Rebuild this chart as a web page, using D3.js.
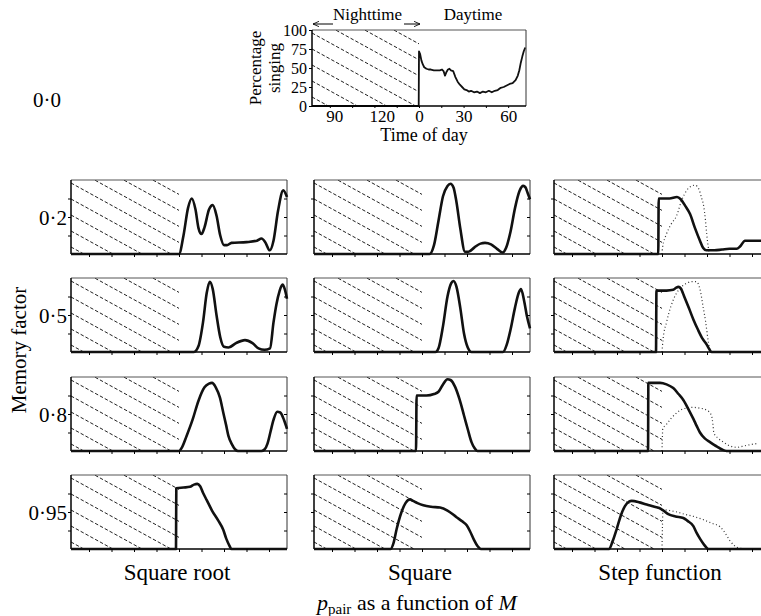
<!DOCTYPE html>
<html>
<head>
<meta charset="utf-8">
<script src="https://cdn.jsdelivr.net/npm/d3@7"></script>
<style>
  body { margin: 0; background: #fff; }
  svg { display: block; font-family: "Liberation Serif", "Times New Roman", serif; }
</style>
</head>
<body>
<div id="chart"></div>
<script>
(function () {
  "use strict";

  // --- data (minutes from dawn, percentage singing) ---
  var memoryFactors = ["0·2", "0·5", "0·8", "0·95"];
  var functionNames = ["Square root", "Square", "Step function"];
  var percentTicks = [0, 25, 50, 75, 100];
  var topTickValues = [-57, -25, 0, 30, 60];
  var topTickLabels = ["90", "120", "0", "30", "60"];
  var minorTicks = [-60, -45, -30, -15, 0, 15, 30, 45, 60];

  var observed = [[-72,0],[-0.2,0],[0,72],[0.8,68],[1.6,60],[2.5,55],[3.5,51],[5,49],[6.5,48],[8,48],[10,47],[12,47],[14,47],[15.5,48],[16.5,46],[17.5,40],[18.3,44],[19.5,48],[20.5,49],[21.5,47],[23,46],[24.5,38],[26,32],[27.5,28],[29,25],[30.5,22],[32,21],[33.5,19],[35,20],[37,18],[39,19],[41,17],[43,19],[45,18],[47,20],[49,18],[51,20],[53,21],[55,24],[57,25],[59,27],[61,29],[63,30],[65,34],[66.5,40],[67.5,47],[68.5,57],[69.5,65],[70.5,72],[71.5,77]];

  var sqrt02 = [[-72,0],[0,0],[3,25],[6,62],[8.5,75],[11,60],[13,35],[15,27],[17,36],[20,60],[22.5,66],[25,52],[27.5,25],[30,12],[32,12],[35,15],[45,16],[52,18],[55,21],[57.5,16],[60.5,5],[63,18],[66,58],[69.5,86],[72,77]];
  var sqrt05 = [[-72,0],[10,0],[13,8],[16,40],[18.5,80],[20.5,95],[22.5,85],[25,50],[27.5,20],[30,7],[33,6],[38,12],[44,16],[49,12],[53,5],[57,3],[60.7,5],[63,40],[65,65],[67,82],[69,91],[70.5,85],[72,72]];
  var sqrt08 = [[-72,0],[0,0],[2,5],[5,20],[9,42],[13,68],[17,86],[20,91],[22,92],[24.5,86],[27.3,72],[29.5,52],[31.3,36],[33,20],[35.3,9],[37.5,2],[39.3,0],[55,0],[57,2],[59,10],[61,26],[63,42],[65.5,53],[67.5,52],[70,42],[72,30]];
  var sqrt095 = [[-72,0],[-2,0],[-1.8,82],[3,83],[7.3,84],[10,87],[12.2,88],[14,85],[16,76],[18.5,66],[22,52],[26,39],[29.5,26],[31.5,14],[33.5,5],[35,0],[72,0]];

  var square02 = [[-72,0],[5,0],[8,12],[11,45],[14,78],[17,92],[19,95],[21,90],[23,70],[25.5,35],[28.7,3],[31,3],[35,9],[39,14],[42,15],[46,13],[50,7],[53.8,2],[56,8],[59,30],[62,62],[65,85],[67.5,92],[69,90],[70.5,82],[72,74]];
  var square05 = [[-72,0],[9,0],[11,5],[14,35],[17,75],[19.5,93],[21,96],[23,88],[25.5,60],[28,25],[30.5,6],[33,0],[54,0],[56.5,10],[59,30],[62,60],[64.5,80],[66,85],[68,70],[70,48],[72,32]];
  var square08 = [[-72,0],[-4,0],[-3.6,75],[3,75],[8,77],[11,80],[14,90],[17,97],[19,96],[22,87],[25,70],[28,48],[30.7,28],[33,12],[35,4],[37,0],[72,0]];
  var square095 = [[-72,0],[-21,0],[-19,8],[-16.9,27],[-14,48],[-11,62],[-8,67],[-6,65],[-3,62],[0.9,59],[6,57],[12,56],[17,52],[23,43],[27,37],[29.8,32],[32,24],[34.5,13],[37,4],[39.3,0],[72,0]];

  var step02 = [[-72,0],[-2.5,0],[-2.2,75],[5,75],[10,77],[12.5,74],[15.5,65],[18.7,54],[22,35],[25.3,18],[27.5,8],[29.5,5],[35,5],[40,6],[45,7],[49.8,7],[52,10],[55.3,18],[60,18],[72,18]];
  var step05 = [[-72,0],[-4,0],[-3.7,83],[3,83],[7.5,84],[9.5,87],[11,88],[12.5,86],[15,74],[18,59],[20.9,44],[24,30],[27,18],[29.8,10],[31.5,4],[33,0],[72,0]];
  var step08 = [[-72,0],[-9.3,0],[-9.1,92],[-5,92],[-1.3,92],[3,90],[7.5,85],[11,77],[14.2,69],[18,55],[21,43],[23.1,34],[25.3,25],[28.5,17],[32,12],[35,8],[37.5,5],[40,2],[43,0],[72,0]];
  var step095 = [[-72,0],[-35.3,0],[-33,10],[-30.2,27],[-27.5,45],[-24.7,58],[-22,64],[-20.2,65],[-15,63],[-10.2,60],[-5,57],[-0.5,54],[0.9,52],[4.2,47],[9,44],[14.2,42],[17,38],[20.9,31],[23,22],[25.3,14],[28,6],[31,0],[72,0]];

  var stepRef02 = [[0,0],[0.3,8],[3,27],[6,40],[9.8,52],[13,72],[16.5,86],[20,92],[22,93],[24.5,88],[26.5,75],[27.5,68],[29,45],[29.8,27],[30.8,10],[31.5,0]];
  var stepRef05 = [[0,0],[0.3,8],[0.7,17],[3,40],[6,62],[9.8,80],[13,88],[16.5,93],[20,95],[23,95],[25.3,85],[27.5,60],[29,42],[29.8,30],[31,12],[32,0]];
  var stepRef08 = [[0,0],[0.2,15],[0.5,30],[3,36],[6,44],[9,50],[12,55],[16,58],[20,59],[25,58],[30,55],[33,48],[34,35],[34.5,25],[37,18],[41,12],[45,7],[50,5],[55,7],[60,9],[63,10]];
  var stepRef095 = [[0,0],[0.3,30],[0.6,53],[5,52],[10,50],[15,47],[21,44],[27,40],[33,35],[38.7,30],[42,22],[45,12],[48,5],[52,1],[60,0],[72,0]];

  var solidRows = [
    [sqrt02, square02, step02],
    [sqrt05, square05, step05],
    [sqrt08, square08, step08],
    [sqrt095, square095, step095]
  ];
  var dottedRows = [stepRef02, stepRef05, stepRef08, stepRef095];

  // --- layout ---
  var WIDTH = 761, HEIGHT = 616;
  var PANEL_W = 216, PANEL_H = 74;
  var COL_X = [71, 314, 554];
  var ROW_Y = [180, 278, 377, 475];
  var TOP = { x: 312, y: 30, w: 214, h: 76 };
  var DOMAIN = [-72, 72];
  var clipId = 0;

  var svg = d3.select("#chart").append("svg")
    .attr("width", WIDTH)
    .attr("height", HEIGHT)
    .attr("viewBox", [0, 0, WIDTH, HEIGHT]);
  svg.append("rect").attr("width", WIDTH).attr("height", HEIGHT).attr("fill", "#fff");

  function drawHatch(g, xs, h) {
    var hw = xs(0);
    var id = "hclip" + (clipId++);
    g.append("clipPath").attr("id", id)
      .append("rect").attr("width", hw).attr("height", h);
    var hg = g.append("g").attr("clip-path", "url(#" + id + ")");
    var slope = 0.55, gap = 16;
    var start = 3 - Math.ceil(slope * hw / gap) * gap;
    for (var off = start; off < h; off += gap) {
      hg.append("line")
        .attr("x1", 0).attr("y1", off)
        .attr("x2", hw).attr("y2", off + slope * hw)
        .attr("stroke", "#222")
        .attr("stroke-width", 1)
        .attr("stroke-dasharray", "3.5,2");
    }
  }

  function drawFrame(g, w, h) {
    g.append("line").attr("x1", 0).attr("x2", w).attr("y1", 0).attr("y2", 0)
      .attr("stroke", "#555").attr("stroke-width", 1);
    g.append("line").attr("x1", w).attr("x2", w).attr("y1", 0).attr("y2", h)
      .attr("stroke", "#333").attr("stroke-width", 1);
    g.append("line").attr("x1", 0).attr("x2", 0).attr("y1", 0).attr("y2", h)
      .attr("stroke", "#000").attr("stroke-width", 1.5);
    g.append("line").attr("x1", 0).attr("x2", w).attr("y1", h).attr("y2", h)
      .attr("stroke", "#000").attr("stroke-width", 1.3);
  }

  function styleAxis(axisG) {
    axisG.select(".domain").remove();
    axisG.selectAll(".tick line").attr("stroke", "#000").attr("stroke-width", 1);
  }

  // --- top panel: observed data ---
  var topG = svg.append("g").attr("transform", "translate(" + TOP.x + "," + TOP.y + ")");
  var topX = d3.scaleLinear().domain(DOMAIN).range([0, TOP.w]);
  var topY = d3.scaleLinear().domain([0, 100]).range([TOP.h, 0]);
  drawHatch(topG, topX, TOP.h);

  topG.append("path")
    .datum(observed)
    .attr("fill", "none")
    .attr("stroke", "#111")
    .attr("stroke-width", 1.8)
    .attr("stroke-linejoin", "round")
    .attr("d", d3.line().x(function (d) { return topX(d[0]); }).y(function (d) { return topY(d[1]); }));

  drawFrame(topG, TOP.w, TOP.h);

  var yAxisTop = topG.append("g")
    .call(d3.axisLeft(topY).tickValues(percentTicks).tickSize(3).tickPadding(2));
  styleAxis(yAxisTop);
  yAxisTop.selectAll("text").attr("font-size", 16).attr("fill", "#000")
    .attr("font-family", "Liberation Serif, serif");

  var xAxisMinorTop = topG.append("g").attr("transform", "translate(0," + TOP.h + ")")
    .call(d3.axisBottom(topX).tickValues(minorTicks).tickSize(2).tickFormat(""));
  styleAxis(xAxisMinorTop);

  var xAxisTop = topG.append("g").attr("transform", "translate(0," + TOP.h + ")")
    .call(d3.axisBottom(topX).tickValues(topTickValues).tickSize(0).tickPadding(4)
      .tickFormat(function (d, i) { return topTickLabels[i]; }));
  styleAxis(xAxisTop);
  xAxisTop.selectAll("text").attr("font-size", 17).attr("fill", "#000")
    .attr("font-family", "Liberation Serif, serif");

  svg.append("text").attr("x", 424).attr("y", 141).attr("text-anchor", "middle")
    .attr("font-size", 18).text("Time of day");

  [["Percentage", 255], ["singing", 274]].forEach(function (t) {
    svg.append("text")
      .attr("transform", "translate(" + t[1] + "," + (TOP.y + TOP.h / 2) + ") rotate(-90)")
      .attr("text-anchor", "middle")
      .attr("dominant-baseline", "central")
      .attr("font-size", 17)
      .text(t[0]);
  });

  // Nighttime / Daytime header with arrows
  var defs = svg.append("defs");
  defs.append("marker").attr("id", "arrowhead")
    .attr("viewBox", "0 0 10 10").attr("refX", 9).attr("refY", 5)
    .attr("markerWidth", 7).attr("markerHeight", 7).attr("orient", "auto")
    .append("path").attr("d", "M0,1 L9,5 L0,9").attr("fill", "none")
    .attr("stroke", "#000").attr("stroke-width", 1.2);

  var dawnX = TOP.x + topX(0);
  svg.append("line").attr("x1", TOP.x + 21).attr("y1", 24).attr("x2", TOP.x + 1).attr("y2", 24)
    .attr("stroke", "#000").attr("stroke-width", 1).attr("marker-end", "url(#arrowhead)");
  svg.append("line").attr("x1", dawnX - 15).attr("y1", 24).attr("x2", dawnX + 1).attr("y2", 24)
    .attr("stroke", "#000").attr("stroke-width", 1).attr("marker-end", "url(#arrowhead)");
  svg.append("text").attr("x", (TOP.x + dawnX) / 2 + 2).attr("y", 20).attr("text-anchor", "middle")
    .attr("font-size", 17).text("Nighttime");
  svg.append("text").attr("x", 473).attr("y", 20).attr("text-anchor", "middle")
    .attr("font-size", 17).text("Daytime");

  svg.append("text").attr("x", 47).attr("y", 107).attr("text-anchor", "middle")
    .attr("font-size", 21).text("0·0");

  // --- grid of model panels ---
  var x = d3.scaleLinear().domain(DOMAIN).range([0, PANEL_W]);
  var y = d3.scaleLinear().domain([0, 100]).range([PANEL_H, 0]);
  var curveLine = d3.line()
    .x(function (d) { return x(d[0]); })
    .y(function (d) { return y(d[1]); })
    .curve(d3.curveMonotoneX);

  memoryFactors.forEach(function (mf, r) {
    functionNames.forEach(function (fn, c) {
      var g = svg.append("g")
        .attr("transform", "translate(" + COL_X[c] + "," + ROW_Y[r] + ")");
      drawHatch(g, x, PANEL_H);

      if (c === 2) {
        g.append("path")
          .datum(dottedRows[r])
          .attr("fill", "none")
          .attr("stroke", "#333")
          .attr("stroke-width", 1.2)
          .attr("stroke-dasharray", "1,2.5")
          .attr("d", curveLine);
      }

      drawFrame(g, PANEL_W, PANEL_H);

      g.append("path")
        .datum(solidRows[r][c])
        .attr("fill", "none")
        .attr("stroke", "#111")
        .attr("stroke-width", 2.6)
        .attr("stroke-linejoin", "round")
        .attr("d", curveLine);

      var la = g.append("g").call(d3.axisLeft(y).tickValues([25, 50, 75]).tickSize(3).tickFormat(""));
      styleAxis(la);
      var ra = g.append("g").attr("transform", "translate(" + PANEL_W + ",0)")
        .call(d3.axisRight(y).tickValues([25, 50, 75]).tickSize(-3).tickFormat(""));
      styleAxis(ra);
      var ba = g.append("g").attr("transform", "translate(0," + PANEL_H + ")")
        .call(d3.axisBottom(x).tickValues(minorTicks).tickSize(3).tickFormat(""));
      styleAxis(ba);
    });

    svg.append("text")
      .attr("x", 67)
      .attr("y", ROW_Y[r] + PANEL_H / 2 + 1)
      .attr("text-anchor", "end")
      .attr("dominant-baseline", "central")
      .attr("font-size", 21)
      .text(mf);
  });

  functionNames.forEach(function (fn, c) {
    svg.append("text")
      .attr("x", COL_X[c] + PANEL_W / 2 - 2)
      .attr("y", 580)
      .attr("text-anchor", "middle")
      .attr("font-size", 23)
      .text(fn);
  });

  svg.append("text")
    .attr("transform", "translate(19," + 350 + ") rotate(-90)")
    .attr("text-anchor", "middle")
    .attr("dominant-baseline", "central")
    .attr("font-size", 21)
    .text("Memory factor");

  var pl = svg.append("text").attr("x", 417).attr("y", 610).attr("text-anchor", "middle").attr("font-size", 22);
  pl.append("tspan").attr("font-style", "italic").text("p");
  pl.append("tspan").attr("font-size", 15).attr("dy", 4).text("pair");
  pl.append("tspan").attr("dy", -4).text(" as a function of ");
  pl.append("tspan").attr("font-style", "italic").text("M");
})();
</script>
</body>
</html>
